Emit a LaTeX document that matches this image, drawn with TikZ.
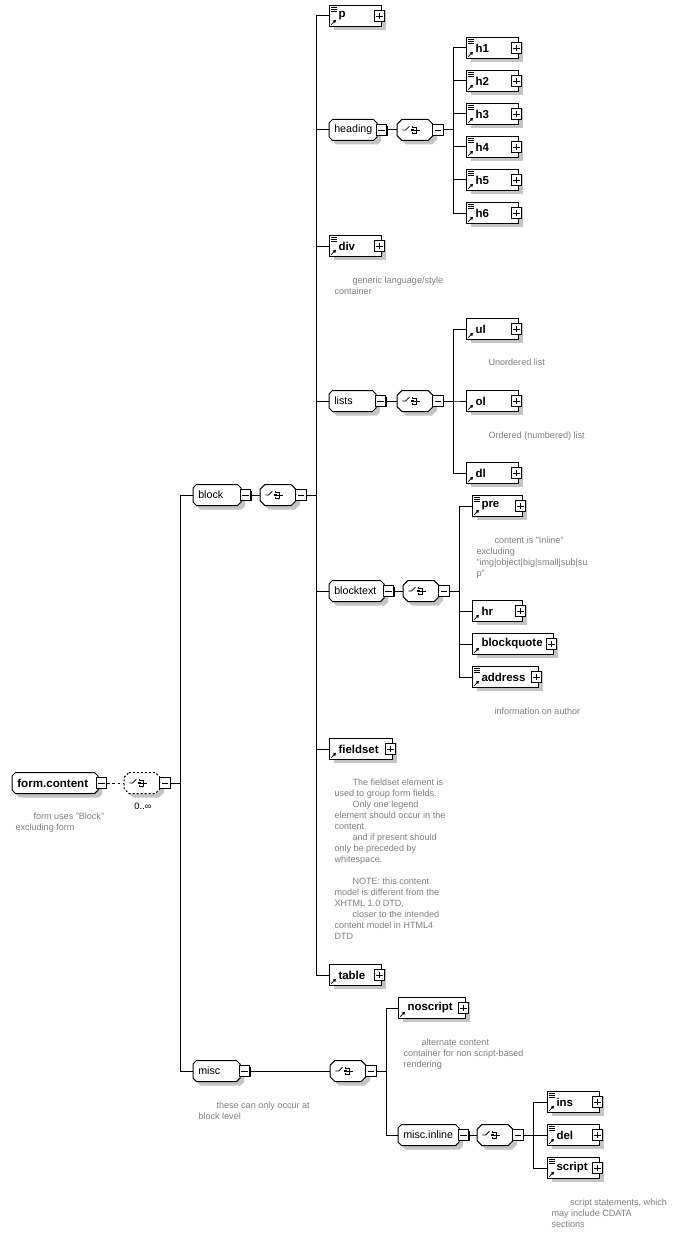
\documentclass[tikz,border=0pt]{standalone}
\usepackage{fontspec}
\setmainfont{Liberation Sans}
\usepackage{tikz}
\usetikzlibrary{positioning,calc,shadows,arrows.meta}

\definecolor{notegray}{RGB}{128,128,128}
\definecolor{shadegray}{RGB}{196,196,196}

\newcommand{\linkarrow}{%
  \draw[line width=0.6pt, -{Triangle[length=2.2pt,width=2.4pt]}] ([shift={(1.3pt,1.3pt)}]path picture bounding box.south west) -- ++(3.6pt,3.6pt);}
\newcommand{\doclines}{%
  \foreach \d in {1.4,2.7,4.0}
    \draw[line width=0.45pt] ([shift={(1.3pt,-\d pt)}]path picture bounding box.north west) -- ++(4.2pt,0pt);}
% chamfered outline round the last node: #1 chamfer, #2/#3 offset
\newcommand{\chamferpath}[3]{%
  ([shift={(#2,#3)},xshift=#1]\tikzlastnode.north west) -- ([shift={(#2,#3)},xshift=-#1]\tikzlastnode.north east)
  -- ([shift={(#2,#3)},yshift=-#1]\tikzlastnode.north east) -- ([shift={(#2,#3)},yshift=#1]\tikzlastnode.south east)
  -- ([shift={(#2,#3)},xshift=-#1]\tikzlastnode.south east) -- ([shift={(#2,#3)},xshift=#1]\tikzlastnode.south west)
  -- ([shift={(#2,#3)},yshift=#1]\tikzlastnode.south west) -- ([shift={(#2,#3)},yshift=-#1]\tikzlastnode.north west) -- cycle}
\newcommand{\choiceicon}{%
  \coordinate (ico) at ([xshift=-1.2pt]\tikzlastnode.center);
  \draw[line width=0.6pt] ([xshift=-8.2pt]ico) -- ++(2.4pt,0pt) -- ++(2.8pt,2.8pt);
  \fill ([shift={(-1.4pt,1.6pt)}]ico) rectangle ++(1.3pt,1.3pt);
  \fill ([shift={(-1.6pt,-0.8pt)}]ico) rectangle ++(1.7pt,1.6pt);
  \fill ([shift={(-1.4pt,-2.9pt)}]ico) rectangle ++(1.3pt,1.3pt);
  \draw[line width=0.5pt] ([shift={(-0.1pt,2.2pt)}]ico) -| ([shift={(2.3pt,-2.2pt)}]ico) -- ++(-2.4pt,0pt);
  \draw[line width=0.5pt] ([xshift=0.1pt]ico) -- ++(5.2pt,0pt);}

\begin{document}
\begin{tikzpicture}[x=0.75pt, y=-0.75pt, line width=0.75pt,
  shd/.style={general shadow={fill=shadegray, shadow xshift=3pt, shadow yshift=-3pt}},
  sgnbox/.style={draw, fill=white, inner sep=0pt, minimum size=7.8pt, line width=0.7pt,
    general shadow={fill=black, shadow xshift=0.6pt, shadow yshift=-0.6pt}},
  mbox/.style={sgnbox, path picture={\draw[line width=0.6pt] ([xshift=1.5pt]path picture bounding box.west) -- ([xshift=-1.5pt]path picture bounding box.east);}},
  pbox/.style={sgnbox, path picture={\draw[line width=0.6pt] ([xshift=1.5pt]path picture bounding box.west) -- ([xshift=-1.5pt]path picture bounding box.east);
    \draw[line width=0.6pt] ([yshift=-1.5pt]path picture bounding box.north) -- ([yshift=1.5pt]path picture bounding box.south);}},
  elem/.style={draw, fill=white, shd, anchor=west, inner sep=0pt, minimum height=15.5pt, text width=#1, align=left,
    font=\fontsize{8.6}{10}\selectfont\bfseries, execute at begin node={\hspace*{6.75pt}},
    path picture={\linkarrow},
    append after command={node[pbox] at ([xshift=-2pt]\tikzlastnode.east) {}}},
  delem/.style={elem=#1, path picture={\linkarrow\doclines}},
  grp/.style={anchor=west, inner xsep=0pt, inner ysep=0pt, minimum height=15pt, text width=#1, align=left,
    font=\fontsize{8}{10}\selectfont, execute at begin node={\hspace*{3.6pt}},
    append after command={\pgfextra{\fill[shadegray] \chamferpath{2.6pt}{3pt}{-3pt};
      \filldraw[fill=white] \chamferpath{2.6pt}{0pt}{0pt};}}},
  chc/.style={anchor=west, inner sep=0pt, minimum width=26.25pt, minimum height=15pt,
    append after command={\pgfextra{\fill[shadegray] \chamferpath{3.6pt}{3pt}{-3pt};
      \filldraw[fill=white] \chamferpath{3.6pt}{0pt}{0pt}; \choiceicon}}},
  optchc/.style={anchor=west, inner sep=0pt, minimum width=26.25pt, minimum height=15pt,
    append after command={\pgfextra{\fill[shadegray] \chamferpath{3.6pt}{3pt}{-3pt};
      \filldraw[fill=white, dash pattern=on 1.5pt off 1.5pt] \chamferpath{3.6pt}{0pt}{0pt}; \choiceicon}}},
  note/.style={anchor=north west, inner sep=0pt, align=left, text=notegray, font=\fontsize{6.8}{8.25}\selectfont}]

  \fill[white] (0,0) rectangle (681,1245);
  \useasboundingbox (0,0) rectangle (681,1245);

  % root group
  \node[grp=63.75pt, font=\fontsize{8.7}{10}\selectfont\bfseries] (form) at (12,783) {form.content};
  \node[mbox] (mform) at ([xshift=2.6pt]form.east) {};
  \node[optchc] (cform) at (124,783) {};
  \node[mbox] (mcform) at ([xshift=3.75pt]cform.east) {};
  \node[font=\fontsize{7}{8}\selectfont] (occ) at (143,806) {0..∞};
  \node[note] (nform) at (15,812.5) {\hspace*{13.5pt}form uses "Block"\\excluding form};

  % block / misc
  \node[grp=35.25pt] (block) at (193,495) {block};
  \node[mbox] (mblock) at ([xshift=3.4pt]block.east) {};
  \node[chc] (cblock) at (260,495) {};
  \node[mbox] (mcblock) at ([xshift=3.75pt]cblock.east) {};

  \node[grp=34.5pt] (misc) at (193,1071) {misc};
  \node[mbox] (mmisc) at ([xshift=3.4pt]misc.east) {};
  \node[note] (nmisc) at (198,1101.5) {\hspace*{13.5pt}these can only occur at\\block level};
  \node[chc] (cmisc) at (330,1071) {};
  \node[mbox] (mcmisc) at ([xshift=3.75pt]cmisc.east) {};

  % block content
  \node[delem=39pt] (p) at (329,16) {p};

  \node[grp=35.25pt] (heading) at (329,130) {heading};
  \node[mbox] (mheading) at ([xshift=3.4pt]heading.east) {};
  \node[chc] (cheading) at (397,130) {};
  \node[mbox] (mcheading) at ([xshift=3.75pt]cheading.east) {};
  \foreach \n/\y in {1/48,2/81,3/114,4/147,5/180,6/213}
    \node[delem=39pt] (h\n) at (466,\y) {h\n};

  \node[delem=39pt] (div) at (329,246) {div};
  \node[note] (ndiv) at (334,276.5) {\hspace*{13.5pt}generic language/style\\container};

  \node[grp=34.5pt] (lists) at (329,401) {lists};
  \node[mbox] (mlists) at ([xshift=3.4pt]lists.east) {};
  \node[chc] (clists) at (397,401) {};
  \node[mbox] (mclists) at ([xshift=3.75pt]clists.east) {};
  \node[elem=39pt] (ul) at (466,329) {ul};
  \node[note] (nul) at (488,358.5) {Unordered list};
  \node[elem=39pt] (ol) at (466,401) {ol};
  \node[note] (nol) at (488,431.5) {Ordered (numbered) list};
  \node[elem=39pt] (dl) at (466,473) {dl};

  \node[grp=40.5pt] (blocktext) at (329,591) {blocktext};
  \node[mbox] (mblocktext) at ([xshift=3.4pt]blocktext.east) {};
  \node[chc] (cblocktext) at (403,591) {};
  \node[mbox] (mcblocktext) at ([xshift=3.75pt]cblocktext.east) {};
  \node[delem=37.5pt] (pre) at (472,506) {pre};
  \node[note] (npre) at (476,536.5) {\hspace*{13.5pt}content is "Inline"\\excluding\\"img|object|big|small|sub|su\\p"};
  \node[elem=37.5pt] (hr) at (472,611) {hr};
  \node[elem=60.75pt] (blockquote) at (472,644) {blockquote};
  \node[delem=49.5pt] (address) at (472,677) {address};
  \node[note] (naddress) at (494,707.5) {information on author};

  \node[elem=47.25pt] (fieldset) at (329,749) {fieldset};
  \node[note] (nfieldset) at (334,778.5) {\hspace*{13.5pt}The fieldset element is\\used to group form fields.\\
    \hspace*{13.5pt}Only one legend\\element should occur in the\\content\\
    \hspace*{13.5pt}and if present should\\only be preceded by\\whitespace.\\[8.25pt]
    \hspace*{13.5pt}NOTE: this content\\model is different from the\\XHTML 1.0 DTD,\\
    \hspace*{13.5pt}closer to the intended\\content model in HTML4\\DTD};
  \node[elem=39pt] (table) at (329,975) {table};

  % misc content
  \node[elem=50.25pt] (noscript) at (398,1008) {noscript};
  \node[note] (nnoscript) at (403,1038.5) {\hspace*{13.5pt}alternate content\\container for non script-based\\rendering};
  \node[grp=45pt] (miscinline) at (398,1135) {misc.inline};
  \node[mbox] (mmiscinline) at ([xshift=3.4pt]miscinline.east) {};
  \node[chc] (cmiscinline) at (477,1135) {};
  \node[mbox] (mcmiscinline) at ([xshift=3.75pt]cmiscinline.east) {};
  \node[delem=39pt] (ins) at (547,1102) {ins};
  \node[delem=39pt] (del) at (547,1135) {del};
  \node[delem=39pt] (script) at (547,1168) {script};
  \node[note] (nscript) at (551,1198.5) {\hspace*{14pt}script statements, which\\may include CDATA\\sections};

  % connectors
  \draw[dash pattern=on 2pt off 2pt] (mform) -- (cform);
  \foreach \c in {block,misc}
    \draw (mcform.east) -- ++(10,0) |- (\c.west);
  \draw (mblock) -- (cblock);
  \foreach \c in {p,heading,div,lists,blocktext,fieldset,table}
    \draw (mcblock.east) -- ++(10,0) |- (\c.west);
  \draw (mheading) -- (cheading);
  \foreach \c in {h1,h2,h3,h4,h5,h6}
    \draw (mcheading.east) -- ++(10,0) |- (\c.west);
  \draw (mlists) -- (clists);
  \foreach \c in {ul,ol,dl}
    \draw (mclists.east) -- ++(10,0) |- (\c.west);
  \draw (mblocktext) -- (cblocktext);
  \foreach \c in {pre,hr,blockquote,address}
    \draw (mcblocktext.east) -- ++(10,0) |- (\c.west);
  \draw (mmisc) -- (cmisc);
  \foreach \c in {noscript,miscinline}
    \draw (mcmisc.east) -- ++(10,0) |- (\c.west);
  \draw (mmiscinline) -- (cmiscinline);
  \foreach \c in {ins,del,script}
    \draw (mcmiscinline.east) -- ++(10,0) |- (\c.west);
\end{tikzpicture}
\end{document}
